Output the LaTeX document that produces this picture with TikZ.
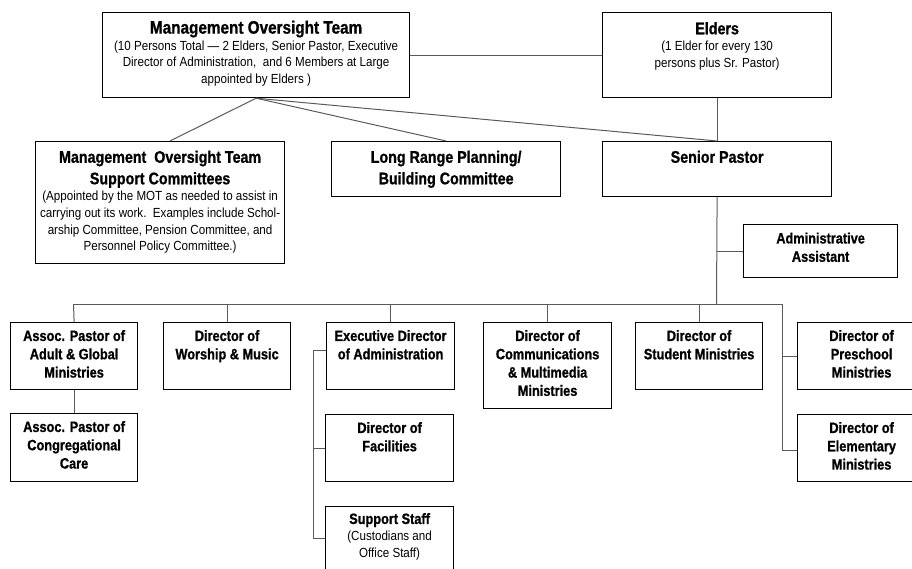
\documentclass[tikz,border=0pt]{standalone}
\usepackage{fontspec}
\newfontfamily\hdfont[FakeStretch=0.85,BoldFeatures={FakeBold=0.9}]{Liberation Sans}
\newfontfamily\subfont[FakeStretch=0.88]{Liberation Sans}
\newcommand\topT{\hdfont\bfseries\fontsize{18}{22}\selectfont}
\newcommand\upT{\hdfont\bfseries\fontsize{16.8}{21.5}\selectfont}
\newcommand\loT{\hdfont\bfseries\fontsize{15}{18.3}\selectfont}
\newcommand\subT{\subfont\fontsize{13.2}{16.6}\selectfont}
\newcommand\obox[7]{\node[obox,anchor=north west] (#1) at (#2,#3) {\parbox[c][#5pt][t]{#4pt}{\centering\vspace*{#6pt}#7\par}};}
\tikzset{
  obox/.style={draw=black,line width=1.2pt,inner sep=0pt,fill=white},
  conn/.style={draw={rgb,255:red,90;green,90;blue,90},line width=1pt}
}
\begin{document}
\begin{tikzpicture}[x=1pt,y=-1pt]
\useasboundingbox (0,0) rectangle (912,569);
\clip (0,0) rectangle (912,569);
% boxes
\obox{mot}{102}{12}{307}{85}{8}{{\topT Management Oversight Team\par}{\subT (10 Persons Total — 2 Elders, Senior Pastor, Executive\\ Director of Administration,\ \ and 6 Members at Large\\ appointed by Elders )\par}}
\obox{eld}{602}{12}{229}{85}{9.5}{{\upT Elders\par}{\subT (1 Elder for every 130\\ persons plus Sr. Pastor)\par}}
\obox{motsc}{35}{141}{249}{122}{9}{{\upT Management\ \ Oversight Team\\ Support Committees\par}{\subT (Appointed by the MOT as needed to assist in\\ carrying out its work.\ \ Examples include Schol-\\ arship Committee, Pension Committee, and\\ Personnel Policy Committee.)\par}}
\obox{lrp}{331}{141}{229}{55}{9}{{\upT Long Range Planning/\\ Building Committee\par}}
\obox{sp}{602}{141}{229}{55}{9}{{\upT Senior Pastor\par}}
\obox{aa}{743}{224}{154}{53}{8}{{\loT Administrative\\ Assistant\par}}
\obox{ap1}{10}{322}{127}{67}{7.5}{{\loT Assoc. Pastor of\\ Adult \& Global\\ Ministries\par}}
\obox{wm}{163}{322}{127}{67}{7.5}{{\loT Director of\\ Worship \& Music\par}}
\obox{ed}{326}{322}{128}{67}{7.5}{{\loT Executive Director\\ of Administration\par}}
\obox{com}{483}{322}{128}{86}{7.5}{{\loT Director of\\ Communications\\ \& Multimedia\\ Ministries\par}}
\obox{stu}{635}{322}{127}{67}{7.5}{{\loT Director of\\ Student Ministries\par}}
\obox{pre}{797}{322}{128}{67}{7.5}{{\loT Director of\\ Preschool\\ Ministries\par}}
\obox{ele}{797}{414}{128}{67}{7.5}{{\loT Director of\\ Elementary\\ Ministries\par}}
\obox{ap2}{10}{413}{127}{68}{7.5}{{\loT Assoc. Pastor of\\ Congregational\\ Care\par}}
\obox{fac}{325}{414}{128}{67}{7.5}{{\loT Director of\\ Facilities\par}}
\obox{sup}{325}{506}{128}{72}{6.5}{{\loT Support Staff\par}{\subT (Custodians and\\ Office Staff)\par}}
% coordinates
\coordinate (bus) at (716.5,304);
\coordinate (busL) at (73.5,304);
\coordinate (busR) at (782,304);
\coordinate (kidsEnd) at (782,450);
\coordinate (adm) at (313,350.5);
\coordinate (admEnd) at (313,538);
% connectors
\draw[conn] (mot.east) -- (eld.west);
\draw[conn] (mot.south) -- (motsc.north -| 170,0);
\draw[conn] (mot.south) -- (lrp.north);
\draw[conn] (mot.south) -- (sp.north);
\draw[conn] (eld.south) -- (sp.north);
\draw[conn] (sp.south) -- (bus);
\draw[conn] (aa.west -| sp.south) -- (aa.west);
\draw[conn] (busL) -- (busR) -- (kidsEnd);
\draw[conn] (busL) -- (ap1.north);
\draw[conn] (wm.north |- bus) -- (wm.north);
\draw[conn] (ed.north |- bus) -- (ed.north);
\draw[conn] (com.north |- bus) -- (com.north);
\draw[conn] (stu.north |- bus) -- (stu.north);
\draw[conn] (pre.west -| busR) -- (pre.west);
\draw[conn] (kidsEnd) -- (kidsEnd -| ele.west);
\draw[conn] (ap1.south) -- (ap2.north);
\draw[conn] (adm) -- (adm -| ed.west);
\draw[conn] (adm) -- (admEnd) -- (admEnd -| sup.west);
\draw[conn] (fac.west -| adm) -- (fac.west);
\end{tikzpicture}
\end{document}
